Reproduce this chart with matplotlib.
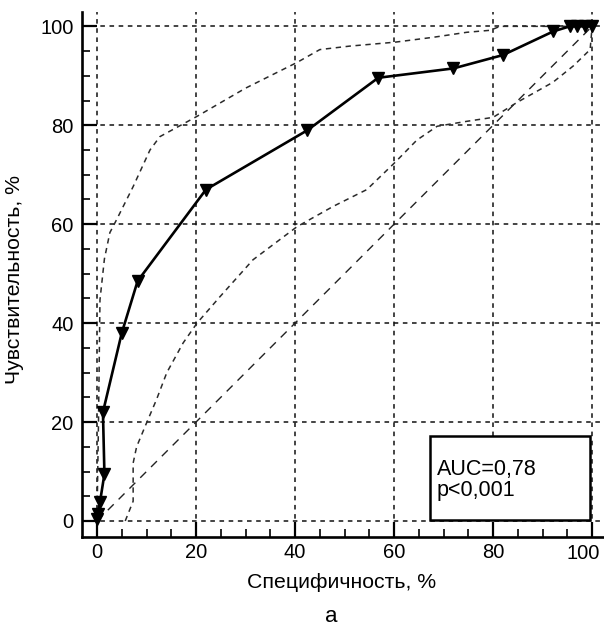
import matplotlib
matplotlib.use('Agg')
import matplotlib.pyplot as plt
from matplotlib.ticker import MultipleLocator, FuncFormatter

plt.rcParams['font.family'] = ['Liberation Sans', 'DejaVu Sans']

# ROC curve (specificity axis, sensitivity)
spec = [0, 0.2, 0.6, 1.5, 1.2, 5, 8.2, 22, 42.5, 56.8, 72, 82, 92.2, 95.5, 97, 98.5, 100]
sens = [0.5, 1.5, 3.8, 9.5, 22, 38, 48.5, 67, 79, 89.6, 91.5, 94.2, 99, 100, 100, 100, 100]

# upper confidence band
up_x = [0, 0.3, 0.6, 1.5, 2.6, 4, 7.3, 10.7, 12.7, 20.2, 30, 40.4, 45, 51, 60.2, 68, 74.7, 79.4, 81.4, 100]
up_y = [0, 20, 44.7, 53, 58.3, 61, 67.6, 75, 77.7, 81.8, 87.5, 92.7, 95.3, 96, 96.8, 97.8, 98.8, 99.2, 100, 100]

# lower confidence band
lo_x = [5.7, 7.3, 7.3, 8, 10, 12, 14.1, 17.4, 20.2, 24.8, 31.5, 40.4, 47.7, 54.5, 60.2, 64.6,
        68.7, 74.7, 80, 84.8, 92.1, 96.2, 99.6, 100]
lo_y = [0, 4, 11.7, 15, 19.8, 24.5, 30, 36, 40, 45.3, 52.8, 59.5, 63.6, 67, 72.5, 77,
        79.8, 80.8, 81.6, 84.6, 88.7, 92, 95.3, 100]

diag = [0, 100]

fig = plt.figure(figsize=(6.04, 6.26), dpi=100)
ax = fig.add_axes([82 / 604, 1 - 537 / 626, 1 - 82 / 604, (537 - 12) / 626])

ax.set_xlim(-3.03, 102.4)
ax.set_ylim(-3.24, 102.9)

ax.plot(diag, diag, color='#222222', lw=1.0, dashes=(6, 5))
ax.plot(up_x, up_y, color='#2a2a2a', lw=1.1, dashes=(3.5, 3))
ax.plot(lo_x, lo_y, color='#2a2a2a', lw=1.1, dashes=(3.5, 3))
ax.plot(spec, sens, color='black', lw=1.9, marker='v', markersize=9,
        markerfacecolor='black', markeredgecolor='black')

ax.xaxis.set_major_locator(MultipleLocator(20))
ax.yaxis.set_major_locator(MultipleLocator(20))
ax.xaxis.set_minor_locator(MultipleLocator(5))
ax.yaxis.set_minor_locator(MultipleLocator(5))
# last x label is drawn separately, shifted in from the edge
ax.xaxis.set_major_formatter(FuncFormatter(lambda v, p: '' if v > 99 else '%d' % v))
ax.grid(True, which='major', color='#111111', lw=1.1, dashes=(3, 3))

for s in ['top', 'right']:
    ax.spines[s].set_visible(False)
for s in ['left', 'bottom']:
    ax.spines[s].set_linewidth(1.9)

ax.tick_params(which='major', direction='in', length=11, width=1.6, labelsize=14.5, pad=6)
ax.tick_params(which='minor', direction='in', length=6, width=1.2)
ax.tick_params(axis='x', which='major', pad=4)

ax.annotate('100', xy=(100, 0), xycoords=('data', 'axes fraction'), xytext=(-9, -7),
            textcoords='offset pixels', ha='center', va='top', fontsize=14.5)

box = plt.Rectangle((67.3, 0.2), 32.2, 16.9, facecolor='white', edgecolor='black', lw=1.8, zorder=3)
ax.add_patch(box)
ax.text(68.6, 8.3, 'AUC=0,78\np<0,001', fontsize=15.5, va='center', ha='left',
        linespacing=1.05, zorder=4)

fig.text(342 / 604, 1 - 582 / 626, 'Специфичность, %', fontsize=15.3, ha='center', va='center')
fig.text(15 / 604, 1 - 280 / 626, 'Чувствительность, %', fontsize=15.3, ha='center', va='center',
         rotation=90)
fig.text(331 / 604, 1 - 617 / 626, 'а', fontsize=16, ha='center', va='center')

fig.savefig('out.png', dpi=100)
